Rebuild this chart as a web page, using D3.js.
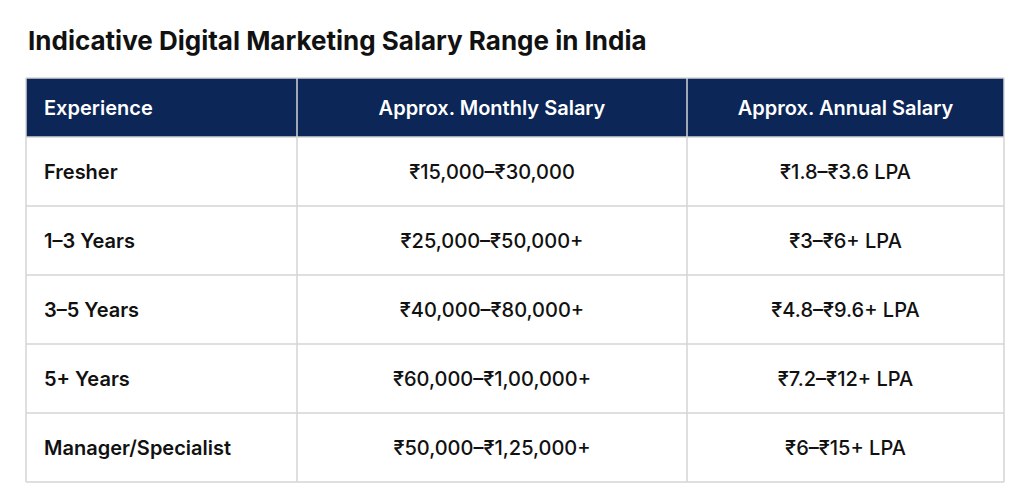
<!DOCTYPE html>
<html><head><meta charset="utf-8">
<script src="https://cdn.jsdelivr.net/npm/d3@7"></script>
<style>body{margin:0;background:#fff;}text{font-family:Inter,"Noto Sans",sans-serif;}</style>
</head><body><svg id="chart"></svg>
<script>
const title = "Indicative Digital Marketing Salary Range in India";
const headers = ["Experience", "Approx. Monthly Salary", "Approx. Annual Salary"];
const experience = ["Fresher", "1–3 Years", "3–5 Years", "5+ Years", "Manager/Specialist"];
const monthly = ["₹15,000–₹30,000", "₹25,000–₹50,000+", "₹40,000–₹80,000+", "₹60,000–₹1,00,000+", "₹50,000–₹1,25,000+"];
const annual = ["₹1.8–₹3.6 LPA", "₹3–₹6+ LPA", "₹4.8–₹9.6+ LPA", "₹7.2–₹12+ LPA", "₹6–₹15+ LPA"];

const W = 1024, H = 499;
const svg = d3.select("#chart").attr("width", W).attr("height", H);
const tLeft = 26, tRight = 1004, tTop = 78, headH = 59, rowH = 69;
const colEdges = [tLeft, 297, 687, tRight];

svg.append("text").attr("x", 28).attr("y", 50)
  .attr("font-size", 26).attr("font-weight", 700).attr("fill", "#111")
  .text(title);

const rows = experience.map((e, i) => [e, monthly[i], annual[i]]);
const y = i => tTop + headH + i * rowH;

svg.append("rect").attr("x", tLeft).attr("y", tTop).attr("width", tRight - tLeft).attr("height", headH)
  .attr("fill", "#0b2657");

// grid lines
svg.selectAll(".hl").data(d3.range(rows.length + 1)).join("line")
  .attr("x1", tLeft).attr("x2", tRight).attr("y1", i => y(i)).attr("y2", i => y(i))
  .attr("stroke", "#d4d4d4").attr("stroke-width", 1.5);
svg.selectAll(".vl").data(colEdges).join("line")
  .attr("x1", d => d).attr("x2", d => d).attr("y1", tTop).attr("y2", y(rows.length))
  .attr("stroke", "#d4d4d4").attr("stroke-width", 1.5);
svg.append("line").attr("x1", tLeft).attr("x2", tRight).attr("y1", tTop).attr("y2", tTop)
  .attr("stroke", "#d4d4d4").attr("stroke-width", 1.5);

const cx = (c) => c === 0 ? tLeft + 18 : (colEdges[c] + colEdges[c + 1]) / 2;
const anchor = c => c === 0 ? "start" : "middle";

headers.forEach((h, c) => {
  svg.append("text").attr("x", cx(c)).attr("y", tTop + headH / 2 + 7)
    .attr("text-anchor", anchor(c)).attr("font-size", 20).attr("font-weight", 600)
    .attr("fill", "#fff").text(h);
});

rows.forEach((r, i) => {
  r.forEach((v, c) => {
    svg.append("text").attr("x", cx(c)).attr("y", y(i) + rowH / 2 + 7)
      .attr("text-anchor", anchor(c)).attr("font-size", 20)
      .attr("font-weight", c === 0 ? 600 : 500).attr("fill", "#111").text(v);
  });
});
</script></body></html>
